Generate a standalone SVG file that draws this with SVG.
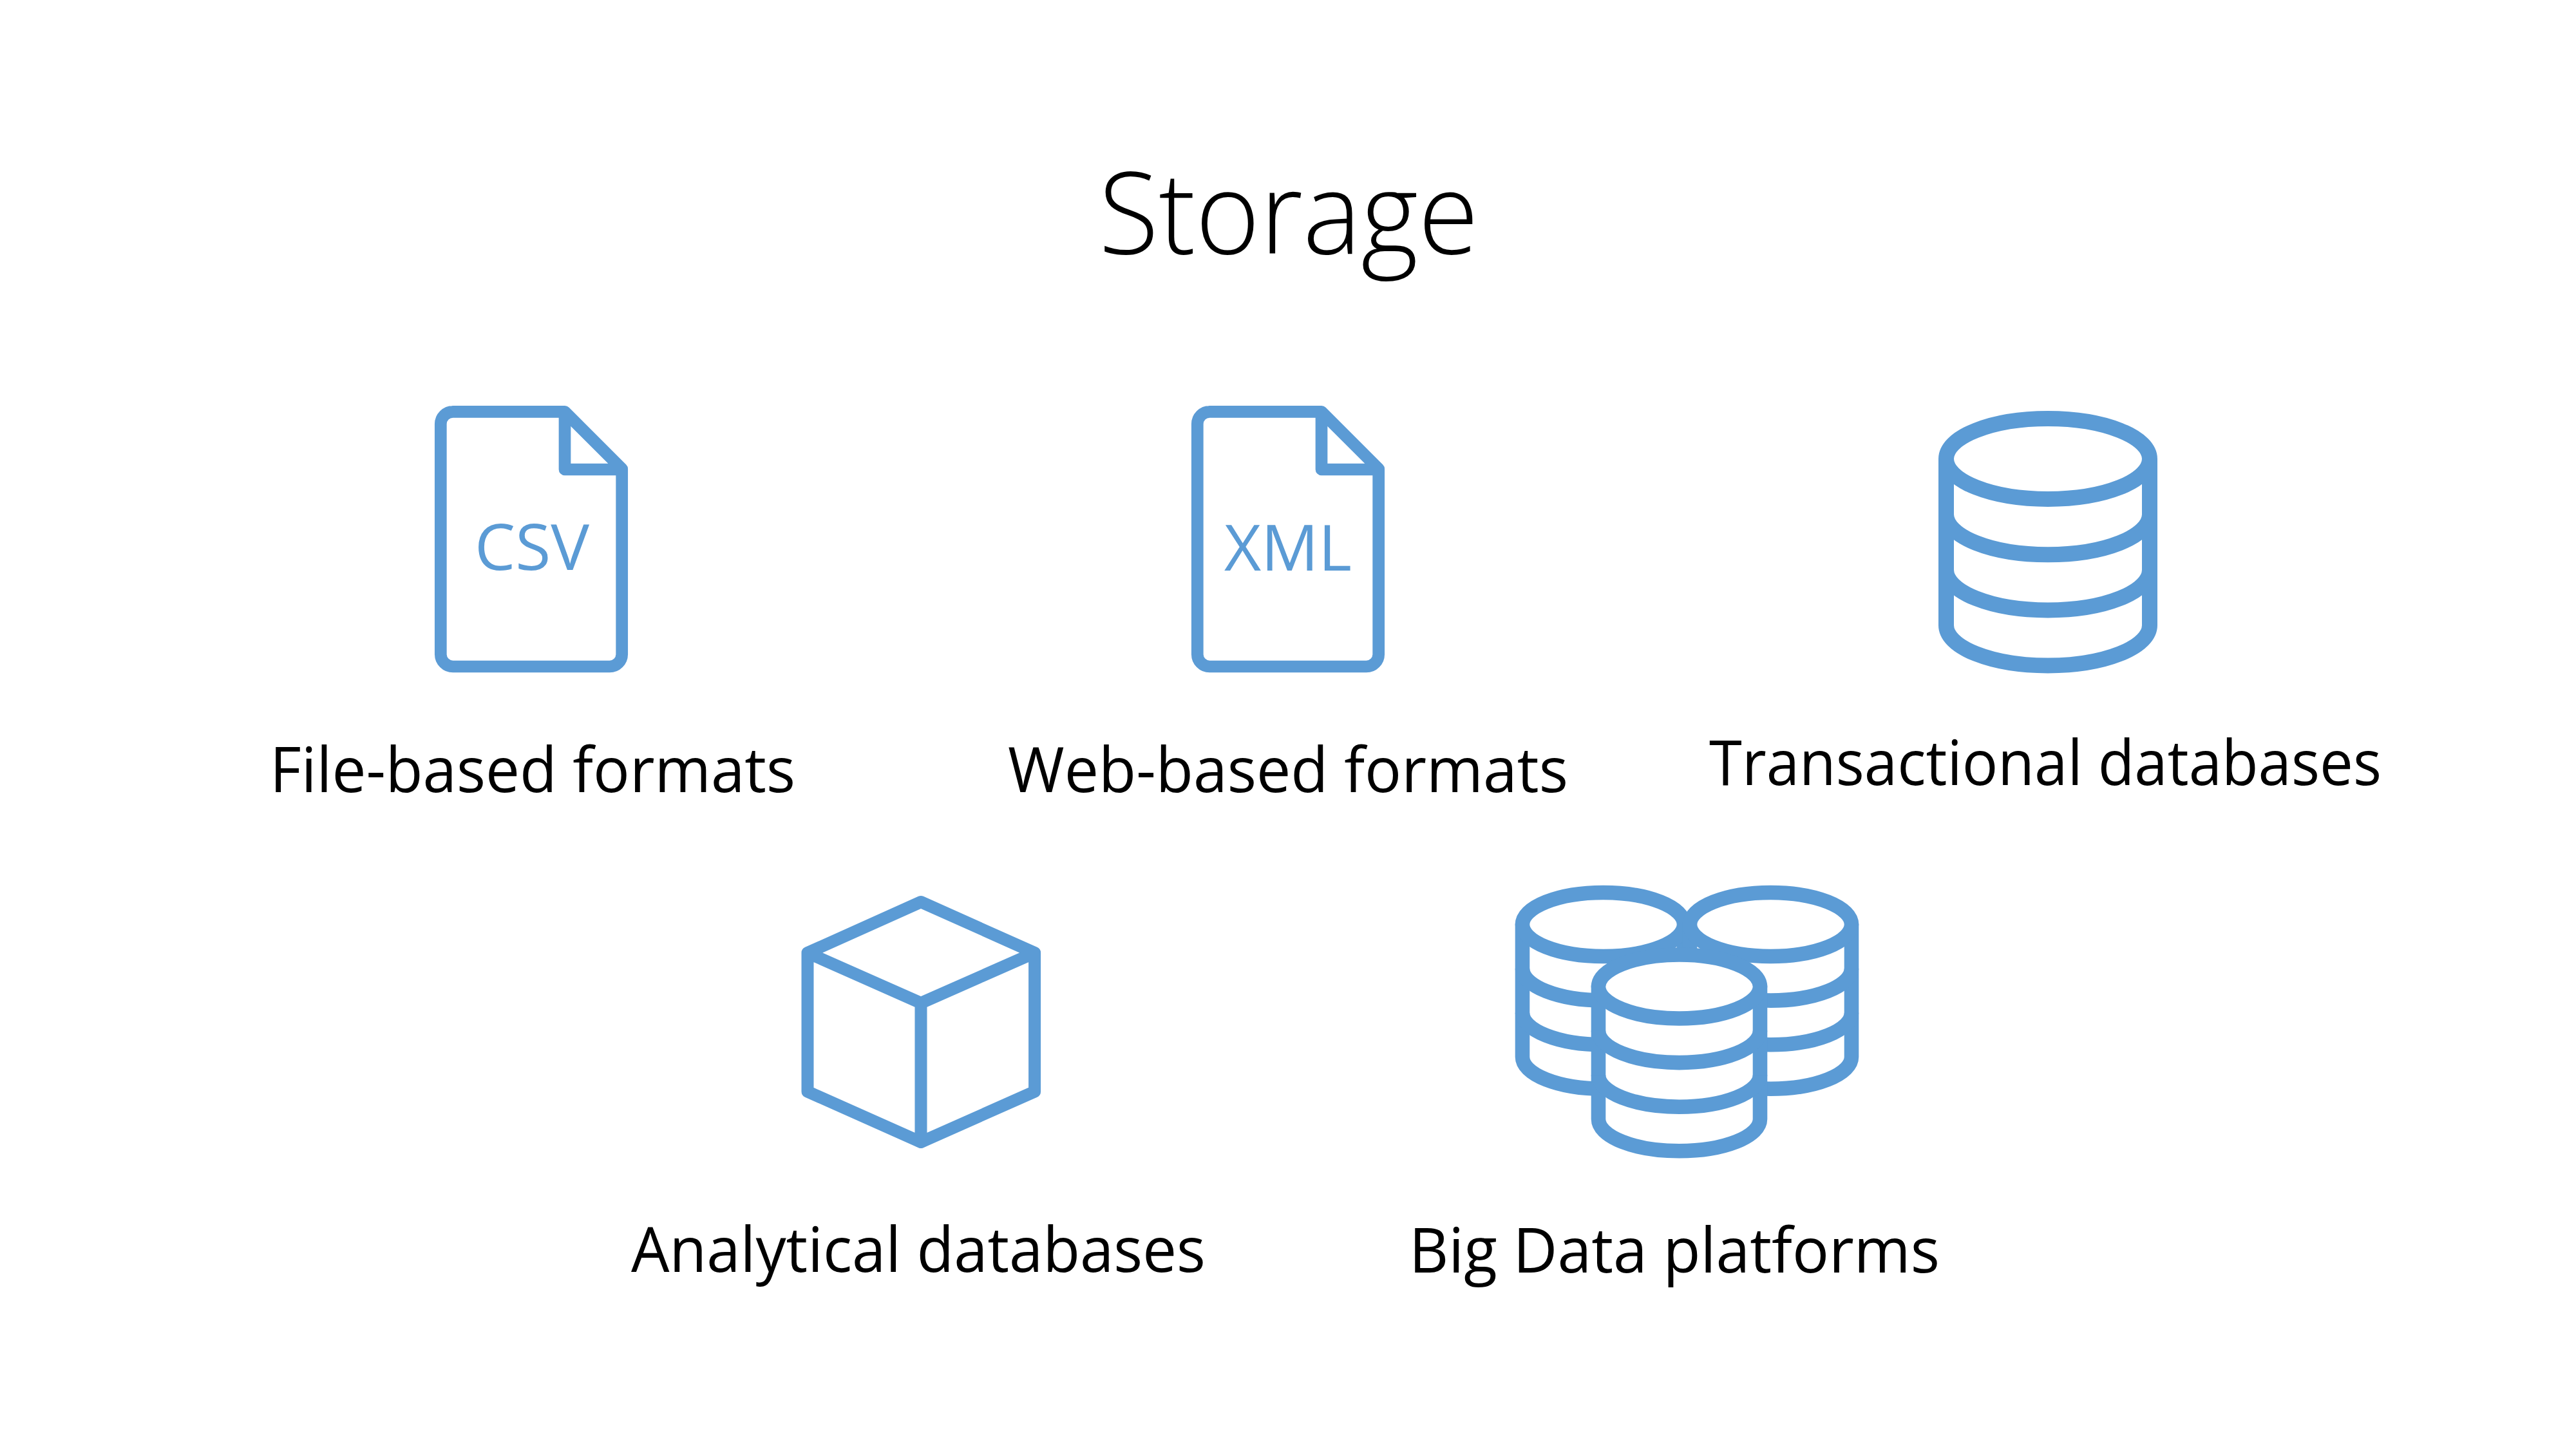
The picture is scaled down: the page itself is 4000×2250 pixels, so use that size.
<svg xmlns="http://www.w3.org/2000/svg" width="4000" height="2250" viewBox="0 0 4000 2250">
<style>
text{font-family:"Open Sans","Noto Sans","Liberation Sans",sans-serif;text-anchor:middle}
.t{font-size:97px;fill:#000}
.h{font-size:178px;font-weight:300;fill:#000}
.b{font-size:98px;font-weight:400;fill:#5b9bd5}
.i{fill:none;stroke:#5b9bd5;stroke-linejoin:round;stroke-linecap:round}
.f{fill:#fff;stroke:#5b9bd5;stroke-width:22.6;stroke-linejoin:round}
</style>
<defs>
<g id="doc"><path class="i" style="stroke-width:18.7" d="M703 639.3H877L965.7 728V1016A19 19 0 0 1 946.7 1035H703.3A19 19 0 0 1 684.3 1016V658.3A19 19 0 0 1 703.3 639.3ZM877 639.3V729H965.7"/></g>
<g id="cyl"><path class="f" d="M-125.5 0V205.8A125.5 49.5 0 0 0 125.5 205.8V0Z"/><path class="f" style="fill:none" d="M-125.5 68.6A125.5 49.5 0 0 0 125.5 68.6M-125.5 137.2A125.5 49.5 0 0 0 125.5 137.2"/><ellipse class="f" rx="125.5" ry="49.5"/></g>
</defs>
<rect width="4000" height="2250" fill="#fff"/>
<text id="title" class="h" x="2001" y="394" textLength="590" lengthAdjust="spacingAndGlyphs">Storage</text>
<g id="csv"><use href="#doc"/><text class="b" x="826" y="885" textLength="178" lengthAdjust="spacingAndGlyphs">CSV</text><text class="t" x="827" y="1230" textLength="816" lengthAdjust="spacingAndGlyphs">File-based formats</text></g>
<g id="xml"><use href="#doc" transform="translate(1175 0)"/><text class="b" x="2000" y="886" textLength="198" lengthAdjust="spacingAndGlyphs">XML</text><text class="t" x="2000" y="1230" textLength="870" lengthAdjust="spacingAndGlyphs">Web-based formats</text></g>
<g id="transactional"><path class="i" style="stroke-width:24" d="M3022 712.5V971A158 62.5 0 0 0 3338 971V712.5A158 62.5 0 0 0 3022 712.5A158 62.5 0 0 0 3338 712.5M3022 798.8A158 62.5 0 0 0 3338 798.8M3022 885A158 62.5 0 0 0 3338 885"/><text class="t" x="3176" y="1219" textLength="1044" lengthAdjust="spacingAndGlyphs">Transactional databases</text></g>
<g id="analytical"><path class="i" style="stroke-width:19" d="M1430 1400.5L1606.6 1479.5V1695L1430 1773.5L1254 1695V1479.5ZM1254 1479.5L1430 1557.5L1606.6 1479.5M1430 1557.5V1773.5"/><text class="t" x="1426" y="1975" textLength="892" lengthAdjust="spacingAndGlyphs">Analytical databases</text></g>
<g id="bigdata"><polygon fill="#5b9bd5" points="2615,1435 2624,1435 2666,1472 2660,1488 2607,1483 2572,1485 2572,1472"/>
<use href="#cyl" x="2489.5" y="1435.5"/><use href="#cyl" x="2749.5" y="1435.5"/><use href="#cyl" x="2607.5" y="1532"/><text class="t" x="2600" y="1976" textLength="824" lengthAdjust="spacingAndGlyphs">Big Data platforms</text></g>
<g id="connectors"></g>
</svg>
